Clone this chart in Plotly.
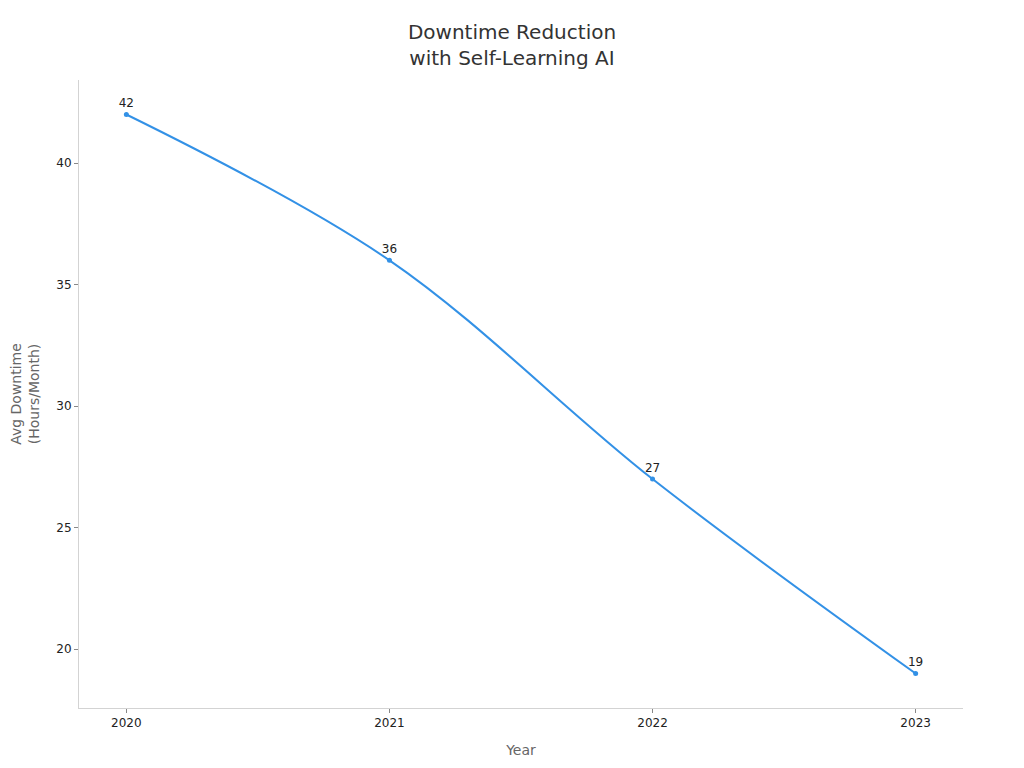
import plotly.graph_objects as go

years = [2020, 2021, 2022, 2023]
downtime = [42, 36, 27, 19]
labels = [str(v) for v in downtime]

font = "DejaVu Sans, Verdana, sans-serif"

fig = go.Figure()
fig.add_trace(go.Scatter(
    x=years, y=downtime, mode="lines+markers+text",
    text=labels, textposition="top center",
    textfont=dict(size=12, color="#222222", family=font),
    line=dict(color="#3391E6", width=2, shape="spline", smoothing=1),
    marker=dict(color="#3391E6", size=5),
    showlegend=False, cliponaxis=False,
))

fig.update_layout(
    width=1024, height=768,
    paper_bgcolor="white", plot_bgcolor="white",
    margin=dict(l=71, r=69, t=72, b=68),
    font=dict(family=font, color="#333333"),
    title=dict(text="Downtime Reduction<br>with Self-Learning AI", x=0.4922, xanchor="center",
               y=0.959, yanchor="top",
               font=dict(size=20, color="#333333", family=font)),
)
fig.update_xaxes(
    range=[2019.82, 2023.18], tickvals=years, ticktext=[str(y) for y in years],
    showgrid=False, zeroline=False, showline=True, linecolor="#d3d3d3", linewidth=1,
    ticks="outside", ticklen=4, tickcolor="#888888",
    tickfont=dict(size=12, color="#222222"),
    title=dict(text="Year", font=dict(size=14, color="#666666"), standoff=15),
    automargin=False,
)
fig.update_yaxes(
    range=[17.58, 43.42], tickvals=[20, 25, 30, 35, 40],
    showgrid=False, zeroline=False, showline=True, linecolor="#d3d3d3", linewidth=1,
    ticks="outside", ticklen=4, tickcolor="#888888",
    tickfont=dict(size=12, color="#222222"),
    title=dict(text="Avg Downtime<br>(Hours/Month)", font=dict(size=14, color="#666666")),
    automargin=False,
)

fig.write_html("out.html")
